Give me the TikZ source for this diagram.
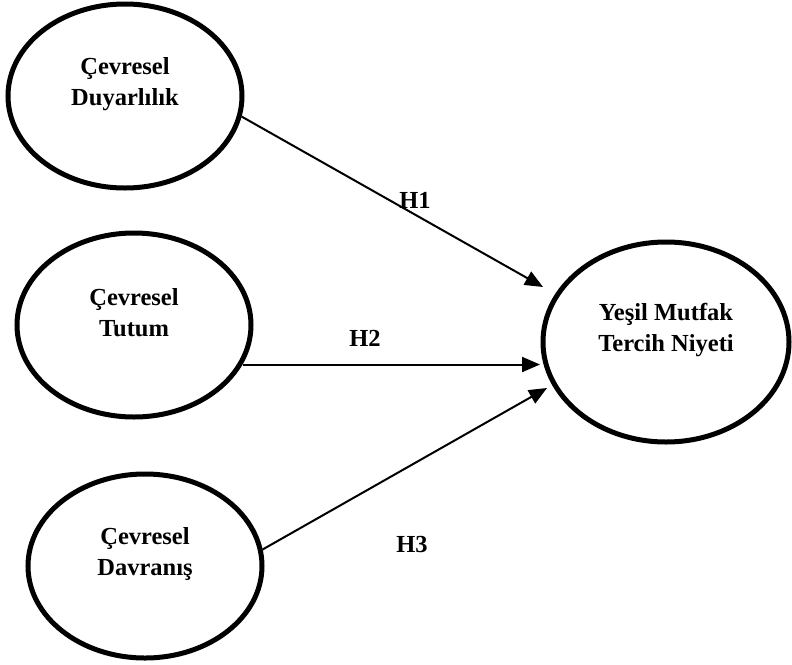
\documentclass[tikz,border=0pt]{standalone}
\usepackage{fontspec}
\setmainfont{Liberation Serif}
\usetikzlibrary{arrows.meta,shapes.geometric}
\begin{document}
\begin{tikzpicture}[x=1pt,y=-1pt,
  ell/.style={ellipse,draw=black,line width=5pt,inner sep=0pt},
  smallell/.style={ell,minimum width=234pt,minimum height=184pt},
  bigell/.style={ell,minimum width=246pt,minimum height=200pt},
  txt/.style={align=center,font=\fontsize{24.5}{31}\selectfont\bfseries},
  hyp/.style={font=\fontsize{24.5}{30}\selectfont\bfseries},
  arr/.style={line width=2pt,-{Triangle[length=18pt,width=15pt]}}]
\useasboundingbox (0,0) rectangle (792,664);
\node[smallell] (e1) at (125,96) {};
\node[smallell] (e2) at (134,325) {};
\node[smallell] (e3) at (145,566) {};
\node[bigell] (er) at (666,342) {};
\node[txt] (t1) at ([yshift=12pt]e1.center) {Çevresel\\Duyarlılık};
\node[txt] (t2) at ([yshift=12pt]e2.center) {Çevresel\\Tutum};
\node[txt] (t3) at ([yshift=12pt]e3.center) {Çevresel\\Davranış};
\node[txt] (tr) at ([yshift=12pt]er.center) {Yeşil Mutfak\\Tercih Niyeti};
\coordinate (tip1) at (543,287);
\coordinate (tip2) at (540,365);
\coordinate (tip3) at (547,388);
\draw[arr] (e1.-10) -- (tip1);
\draw[arr] (e2.-20) -- (e2.-20 -| tip2);
\draw[arr] (e3.8) -- (tip3);
\node[hyp] (h1) at (415,200) {H1};
\node[hyp] (h2) at (365,338) {H2};
\node[hyp] (h3) at (412,545) {H3};
\end{tikzpicture}
\end{document}
